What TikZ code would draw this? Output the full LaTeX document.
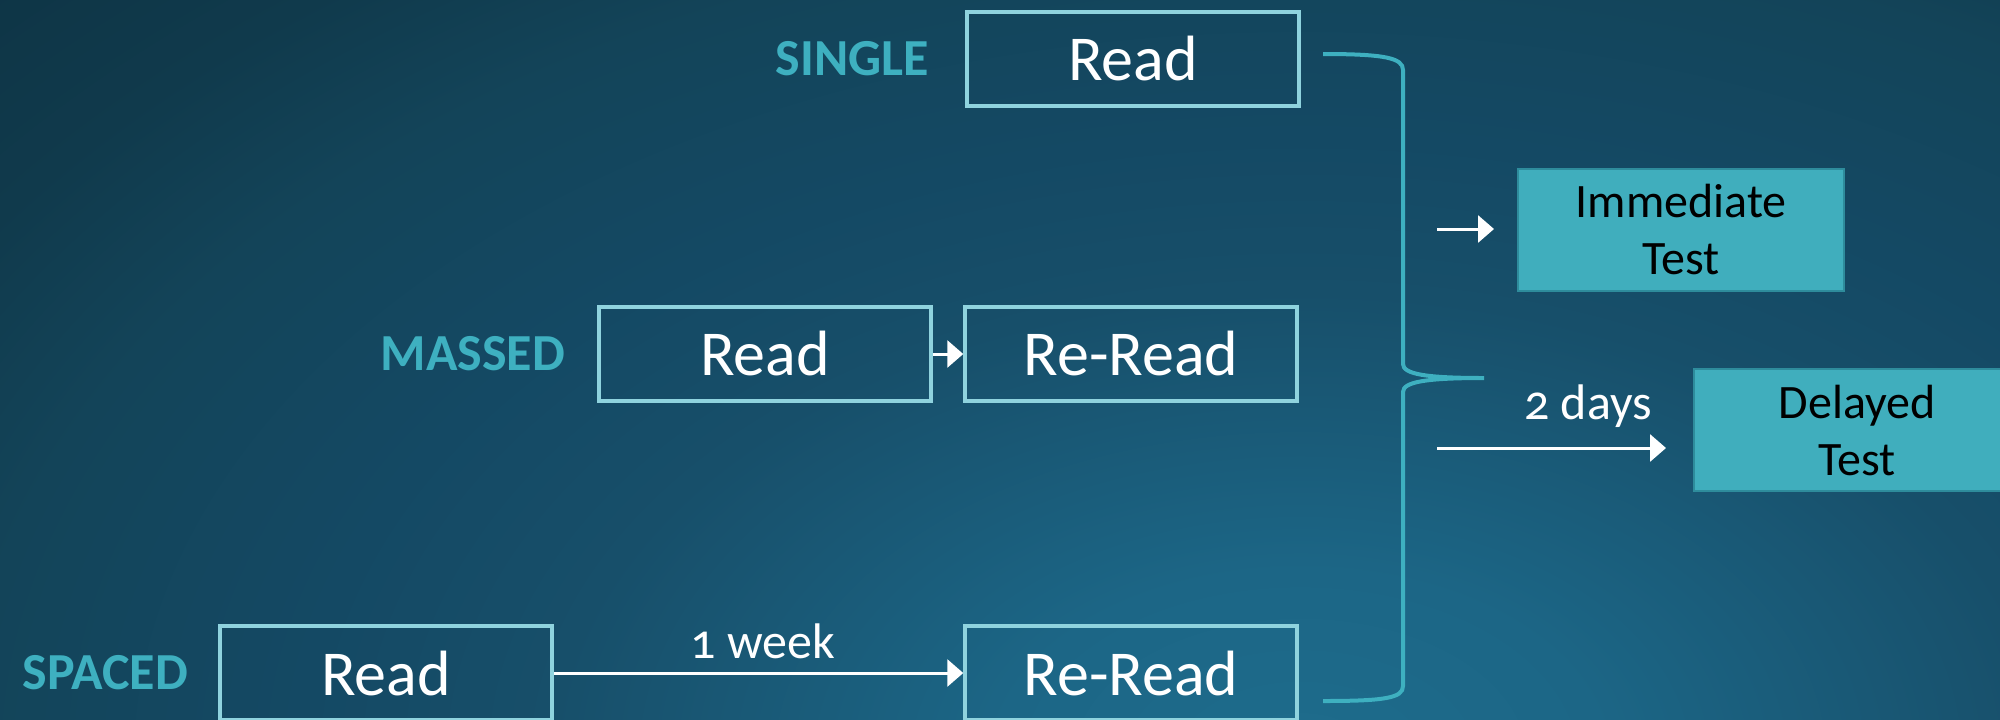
\documentclass[tikz,border=0pt]{standalone}
\usepackage{fontspec}
\setmainfont[Numbers=OldStyle]{Carlito}
\usetikzlibrary{arrows.meta}

\definecolor{bgouter}{HTML}{0E3546}
\definecolor{bgstopa}{HTML}{1E6C8C}
\definecolor{bgstopb}{HTML}{1C6686}
\definecolor{bgstopc}{HTML}{174F6A}
\definecolor{bgstopd}{HTML}{144964}
\definecolor{bgstope}{HTML}{134459}
\definecolor{bgstopf}{HTML}{103A4C}
\definecolor{boxline}{HTML}{8FD3DE}
\definecolor{tagcol}{HTML}{3EB0C0}
\definecolor{testfill}{HTML}{40AEBD}
\definecolor{testline}{HTML}{2E8C9C}

% soft glow rising from the lower middle of the slide
\pgfdeclareradialshading{bgglow}{\pgfpoint{0bp}{0bp}}{%
  color(0bp)=(bgstopa); color(4.2bp)=(bgstopb); color(10.4bp)=(bgstopc);
  color(13.9bp)=(bgstopd); color(18.5bp)=(bgstope); color(21.7bp)=(bgstopf);
  color(25bp)=(bgouter); color(50bp)=(bgouter)}

\begin{document}
\begin{tikzpicture}[x=0.5pt,y=-0.5pt,
  readbox/.style={draw=boxline, line width=1.75pt, minimum width=166pt,
    minimum height=47pt, inner sep=0pt, text=white,
    font=\fontsize{32}{36}\selectfont},
  tag/.style={anchor=east, text=tagcol, inner sep=0pt,
    font=\fontsize{26}{28}\selectfont\bfseries},
  testbox/.style={draw=testline, fill=testfill, line width=1.2pt,
    minimum width=163pt, minimum height=61pt, align=center, text=black,
    inner sep=0pt, font=\fontsize{24}{28.5}\selectfont},
  flow/.style={draw=white, line width=1.5pt,
    -{Triangle[length=8pt,width=13.5pt]}},
  lapse/.style={text=white, inner sep=0pt, anchor=base,
    font=\fontsize{25}{28}\selectfont},
  brace/.style={draw=tagcol, line width=2pt}]

% page and background
\useasboundingbox (0,0) rectangle (2000,719);
\clip (0,0) rectangle (2000,719);
\fill[bgouter] (0,0) rectangle (2000,719);
\shade[shading=bgglow] (1300,760) ellipse (900pt and 562pt);

% reading boxes
\node[readbox] (sread)   at (1133,59)  {Read};
\node[readbox] (mread)   at (765,354)  {Read};
\node[readbox] (mreread) at (1131,354) {Re-Read};
\node[readbox] (spread)  at (386,673)  {Read};
\node[readbox] (sreread) at (1131,673) {Re-Read};

% condition labels
\node[tag] (lsingle) at ([xshift=-18pt]sread.west)  {SINGLE};
\node[tag] (lmassed) at ([xshift=-16pt]mread.west)  {MASSED};
\node[tag] (lspaced) at ([xshift=-15pt]spread.west) {SPACED};

% sequence arrows
\draw[flow] (mread) -- (mreread);
\draw[flow] (spread) -- (sreread);
\node[lapse] (week) at (763,658) {1 week};

% grouping brace
\coordinate (btop) at (1323,54);
\coordinate (btip) at (1484,378);
\coordinate (bbot) at (1323,701);
\draw[brace] (btop) .. controls (1385,54) and (1403,58) .. (1403,70)
  -- (1403,364) .. controls (1403,374) and (1425,378) .. (btip)
  .. controls (1425,378) and (1403,382) .. (1403,392)
  -- (1403,686) .. controls (1403,698) and (1385,701) .. (bbot);

% tests
\node[testbox] (imm) at (1681,230) {Immediate\\Test};
\node[testbox] (del) at (1857,430) {Delayed\\Test};

\coordinate (iin)  at (1437,229);
\coordinate (iout) at (1494,229);
\draw[flow] (iin) -- (iout);

\coordinate (din)  at (1437,448);
\coordinate (dout) at (1666,448);
\draw[flow] (din) -- (dout);
\node[lapse] (days) at (1588,419) {2 days};
\end{tikzpicture}
\end{document}
